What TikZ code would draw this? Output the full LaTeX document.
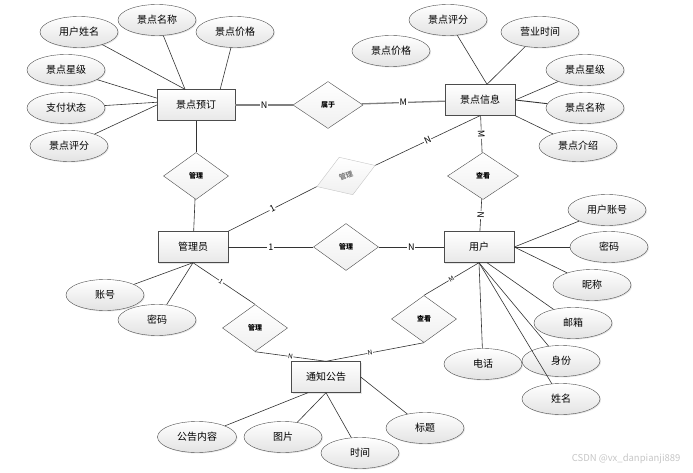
\documentclass[tikz,border=0pt]{standalone}
\usepackage{fontspec}
\setmainfont{Noto Sans CJK SC}
\usetikzlibrary{shapes.geometric,shadows}

\begin{document}
\begin{tikzpicture}[x=1pt,y=-1pt,
  attr/.style={ellipse, draw=gray!60!black, top color=white, bottom color=gray!22, minimum width=78pt, minimum height=31pt, inner sep=0pt, font=\fontsize{10}{12}\selectfont, drop shadow={shadow xshift=1pt,shadow yshift=-1pt,opacity=0.2}},
  entity/.style={rectangle, draw=gray!60!black, top color=white, bottom color=gray!18, minimum width=70pt, minimum height=31pt, inner sep=0pt, font=\fontsize{10}{12}\selectfont, drop shadow={shadow xshift=1pt,shadow yshift=-1pt,opacity=0.2}},
  rel/.style={diamond, draw=gray!60!black, top color=white, bottom color=gray!12, minimum width=65pt, minimum height=47pt, inner sep=0pt, font=\fontsize{7}{8}\selectfont\bfseries},
  card/.style={fill=white, inner sep=0.8pt, font=\fontsize{9}{10}\selectfont},
  smallcard/.style={fill=white, inner sep=0.5pt, font=\fontsize{6.5}{7}\selectfont},
  link/.style={draw=gray!40!black, line width=0.6pt}]
  \useasboundingbox (0,0) rectangle (693,473);

  % entities
  \node[entity, minimum width=78pt] (jdyd) at (196,105) {景点预订};
  \node[entity] (jdxx) at (480,100) {景点信息};
  \node[entity] (gly) at (193,247) {管理员};
  \node[entity] (yh) at (479,247) {用户};
  \node[entity, minimum width=69pt] (tzgg) at (326,377) {通知公告};

  % relations
  \node[rel, minimum width=70pt] (sy) at (328,105) {属于};
  \node[rel] (gl1) at (196,176) {管理};
  \node[rel, draw=gray!45, text=gray, minimum width=62pt, minimum height=40pt, rotate=20] (gl2) at (346,176) {管理};
  \node[rel, minimum width=71pt] (ck1) at (483,176) {查看};
  \node[rel] (gl3) at (346,247) {管理};
  \node[rel] (gl4) at (255,328) {管理};
  \node[rel] (ck2) at (424,319) {查看};

  % attributes of 景点预订
  \node[attr] (yhxm) at (79,32) {用户姓名};
  \node[attr] (jdmc1) at (157,20) {景点名称};
  \node[attr] (jdjg1) at (235,32) {景点价格};
  \node[attr] (jdxj1) at (66,70) {景点星级};
  \node[attr] (zfzt) at (66,108) {支付状态};
  \node[attr] (jdpf1) at (69,146) {景点评分};

  % attributes of 景点信息
  \node[attr] (jdjg2) at (391,51) {景点价格};
  \node[attr] (jdpf2) at (448,20) {景点评分};
  \node[attr] (yysj) at (540,32) {营业时间};
  \node[attr] (jdxj2) at (585,70) {景点星级};
  \node[attr] (jdmc2) at (585,108) {景点名称};
  \node[attr] (jdjs) at (578,146) {景点介绍};

  % attributes of 用户
  \node[attr] (yhzh) at (607,210) {用户账号};
  \node[attr] (mm2) at (609,247) {密码};
  \node[attr] (nc) at (592,285) {昵称};
  \node[attr] (yx) at (573,323) {邮箱};
  \node[attr] (sf) at (561,361) {身份};
  \node[attr] (xm) at (561,399) {姓名};
  \node[attr] (dh) at (483,364) {电话};

  % attributes of 管理员
  \node[attr] (zh) at (105,295) {账号};
  \node[attr] (mm1) at (157,320) {密码};

  % attributes of 通知公告
  \node[attr, minimum width=79pt] (ggnr) at (197,437) {公告内容};
  \node[attr] (tp) at (283,437) {图片};
  \node[attr] (sj) at (360,453) {时间};
  \node[attr] (bt) at (425,428) {标题};

  % attribute links
  \draw[link] (yhxm) -- (jdyd.125);
  \draw[link] (jdmc1) -- (jdyd.125);
  \draw[link] (jdjg1) -- (jdyd.33);
  \draw[link] (jdxj1) -- (jdyd.170);
  \draw[link] (zfzt) -- (jdyd.176);
  \draw[link] (jdpf1) -- (jdyd.west);
  \draw[link] (jdpf2) -- (jdxx.66);
  \draw[link] (yysj) -- (jdxx.66);
  \draw[link] (jdxj2) -- (jdxx.east);
  \draw[link, line width=0.9pt] (jdmc2) -- (jdxx.east);
  \draw[link] (jdjs) -- (jdxx.south east);
  \draw[link] (yhzh) -- (yh.east);
  \draw[link] (mm2) -- (yh.east);
  \draw[link] (nc) -- (yh.east);
  \draw[link] (yx) -- (yh.-63);
  \draw[link] (sf) -- (yh.south);
  \draw[link] (xm) -- (yh.south);
  \draw[link] (dh) -- (yh.south);
  \draw[link] (zh) -- (gly.south);
  \draw[link] (mm1) -- (gly.south);
  \draw[link] (ggnr) -- (tzgg.221);
  \draw[link] (tp) -- (tzgg.south);
  \draw[link] (sj) -- (tzgg.south);
  \draw[link] (bt) -- (tzgg.east);

  % relation links
  \draw[draw=gray, line width=1.3pt] (jdyd) -- node[card, pos=0.5] {N} (sy);
  \draw[draw=gray, line width=1.3pt] (sy) -- node[card, pos=0.5] {M} (jdxx);
  \draw[link] (jdyd) -- (gl1);
  \draw[link] (gl1) -- (gly);
  \draw[link] (gly.north east) -- node[card, sloped, pos=0.5] {1} (gl2.west);
  \draw[link] (gl2.east) -- node[card, sloped, pos=0.5] {N} (jdxx.south);
  \draw[link] (jdxx) -- node[card, sloped, pos=0.5] {M} (ck1);
  \draw[link] (ck1) -- node[card, sloped, pos=0.5] {N} (yh);
  \draw[link] (gly) -- node[card, pos=0.5] {1} (gl3);
  \draw[link] (gl3) -- node[card, pos=0.5] {N} (yh);
  \draw[link] (gly.south) -- node[smallcard, sloped, pos=0.45] {1} (gl4.north);
  \draw[link] (gl4.south) -- node[smallcard, sloped, pos=0.5] {N} (tzgg.north);
  \draw[link] (yh.south) -- node[smallcard, sloped, pos=0.5] {M} (ck2.north);
  \draw[link] (ck2.south) -- node[smallcard, sloped, pos=0.55] {N} (tzgg.north);

  \node[text=gray!45, font=\fontsize{9.5}{11}\selectfont, anchor=east] (wm) at (684,459) {CSDN @vx\_danpianji889};
\end{tikzpicture}
\end{document}
